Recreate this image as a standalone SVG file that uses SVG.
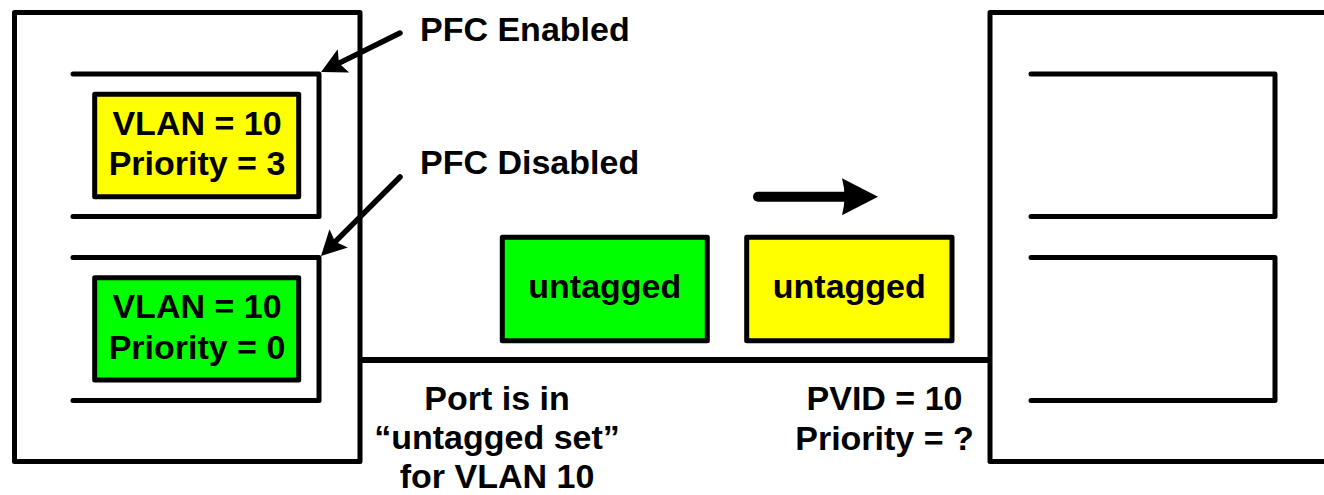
<svg xmlns="http://www.w3.org/2000/svg" width="1324" height="495" viewBox="0 0 1324 495">
<style>
.ln{fill:none;stroke:#000;stroke-width:5;stroke-linecap:round;stroke-linejoin:round}
.box{stroke:#000;stroke-width:5;stroke-linejoin:round}
.y{fill:#FFFF00}
.g{fill:#00FF00}
text{font-family:"Liberation Sans",Arial,sans-serif;font-weight:bold;font-size:34px;fill:#000}
.c{text-anchor:middle}
</style>
<defs>
<marker id="ah" markerUnits="userSpaceOnUse" viewBox="-12 -15 30 30" refX="0" refY="0" markerWidth="30" markerHeight="30" orient="auto" overflow="visible">
<path d="M15,0 L-10,-13 L-5,0 L-10,13 Z" fill="#000"/>
</marker>
<marker id="ahb" markerUnits="userSpaceOnUse" viewBox="-10 -20 40 40" refX="0" refY="0" markerWidth="40" markerHeight="40" orient="auto" overflow="visible">
<path d="M28,0 L-8,-18.5 Q-3,0 -8,18.5 Z" fill="#000"/>
</marker>
</defs>
<g id="left-device">
<rect class="ln" x="14.5" y="12.5" width="345.5" height="449"/>
<path class="ln" d="M73,74 L319,74 L319,216.5 L73,216.5"/>
<path class="ln" d="M73,257.5 L319,257.5 L319,400.5 L73,400.5"/>
</g>
<g id="right-device">
<path class="ln" d="M1330,12.5 L990,12.5 L990,461.5 L1330,461.5" stroke-linecap="butt"/>
<path class="ln" d="M1031,74 L1275,74 L1275,216.5 L1031,216.5"/>
<path class="ln" d="M1031,257.5 L1275,257.5 L1275,400.5 L1031,400.5"/>
</g>
<g id="queue-pfc-enabled">
<rect class="box y" x="94.7" y="94.3" width="204" height="102.4"/>
<text class="c" x="197" y="135">VLAN = 10</text>
<text class="c" x="197" y="175">Priority = 3</text>
</g>
<g id="queue-pfc-disabled">
<rect class="box g" x="94.7" y="277.7" width="204" height="102.3"/>
<text class="c" x="197" y="318.3">VLAN = 10</text>
<text class="c" x="197" y="359">Priority = 0</text>
</g>
<g id="frame-green">
<rect class="box g" x="502.3" y="237.3" width="205" height="103.4"/>
<text class="c" x="604.8" y="298.3">untagged</text>
</g>
<g id="frame-yellow">
<rect class="box y" x="746.7" y="237.3" width="205.3" height="103.4"/>
<text class="c" x="849.3" y="298.3">untagged</text>
</g>
<g id="label-pfc-enabled"><text x="420" y="40.5">PFC Enabled</text></g>
<g id="label-pfc-disabled"><text x="420" y="174">PFC Disabled</text></g>
<g id="label-port">
<text class="c" x="497" y="410">Port is in</text>
<text class="c" x="497" y="449">“untagged set”</text>
<text class="c" x="497" y="488">for VLAN 10</text>
</g>
<g id="label-pvid">
<text class="c" x="884.5" y="410">PVID = 10</text>
<text class="c" x="884.5" y="450">Priority = ?</text>
</g>
<g id="connectors">
<line x1="360" y1="360" x2="990" y2="360" stroke="#000" stroke-width="6"/>
<line x1="400" y1="33" x2="334.5" y2="65.4" stroke="#000" stroke-width="5.5" stroke-linecap="round" marker-end="url(#ah)"/>
<line x1="400" y1="177" x2="331.6" y2="245.4" stroke="#000" stroke-width="5.5" stroke-linecap="round" marker-end="url(#ah)"/>
<line x1="758" y1="196.7" x2="850" y2="196.7" stroke="#000" stroke-width="10" stroke-linecap="round" marker-end="url(#ahb)"/>
</g>
</svg>
